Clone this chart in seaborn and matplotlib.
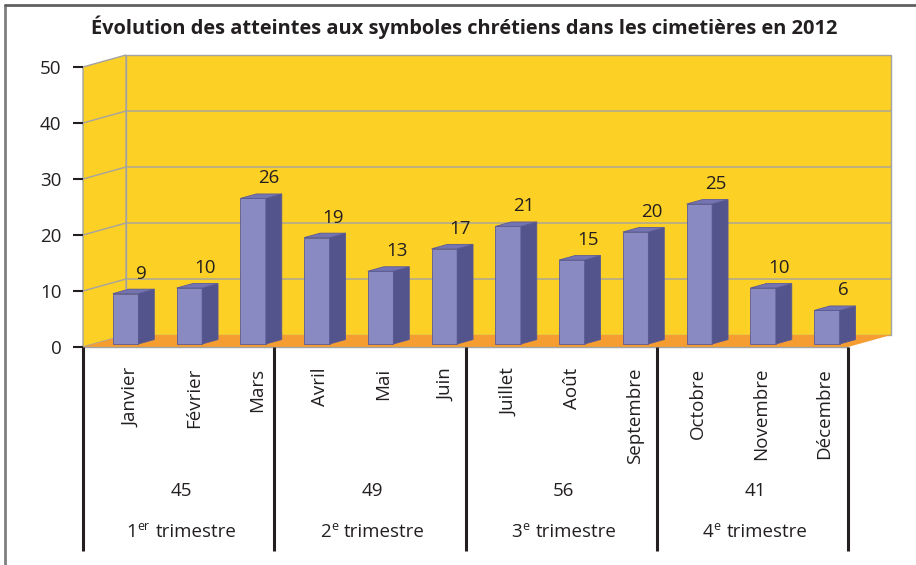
import matplotlib
matplotlib.use("Agg")
import matplotlib.pyplot as plt
from matplotlib.patches import Polygon
from matplotlib.transforms import Affine2D
from matplotlib.lines import Line2D
import seaborn as sns
import pandas as pd

# ---- data ----
months = ["Janvier", "Février", "Mars", "Avril", "Mai", "Juin",
          "Juillet", "Août", "Septembre", "Octobre", "Novembre", "Décembre"]
values = [9, 10, 26, 19, 13, 17, 21, 15, 20, 25, 10, 6]
quarter_totals = [45, 49, 56, 41]
quarter_numbers = ["1", "2", "3", "4"]
quarter_suffixes = ["er", "e", "e", "e"]
quarter_word = "trimestre"
y_ticks = [0, 10, 20, 30, 40, 50]
title = "Évolution des atteintes aux symboles chrétiens dans les cimetières en 2012"

# ---- style ----
sns.set_theme(style="white")
plt.rcParams["font.family"] = ["Open Sans", "DejaVu Sans"]

INK = "#231F20"
WALL = "#FDD026"
FLOOR = "#F59D30"
GRID = "#A3A3A3"
FRONT = "#8A8AC3"
SIDE = "#54548C"
TOP = "#7474B2"
EDGE = "#5A5A94"
FS = 13.5

W, H = 916, 565
fig = plt.figure(figsize=(W / 100, H / 100), dpi=100)

# front plane of the box, in pixels
px_left, px_right, px_zero, px_top = 83, 848, 347, 67
ax = fig.add_axes([px_left / W, 1 - px_zero / H,
                   (px_right - px_left) / W, (px_zero - px_top) / H])
ax.set_facecolor("none")

XU = (px_right - px_left) / 12.0      # pixels per category
YU = (px_zero - px_top) / 50.0        # pixels per unit
DX = 43 / XU                          # depth offset of the box (data units)
DY = 12 / YU
F0 = 0.25                             # depth at which the bars start
BD = 0.37                             # bar depth, fraction of the box depth

df = pd.DataFrame({"mois": months, "atteintes": values})
sns.barplot(data=df, x="mois", y="atteintes", color=FRONT, saturation=1,
            width=0.4, ax=ax, edgecolor=EDGE, linewidth=0.6, zorder=3)
bars = list(ax.patches)

x0, x1 = -0.5, 11.5
ax.set_xlim(x0, x1)
ax.set_ylim(0, 50)

# back wall, left wall, floor
ax.add_patch(Polygon([(x0 + DX, DY), (x1 + DX, DY), (x1 + DX, 50 + DY), (x0 + DX, 50 + DY)],
                     closed=True, facecolor=WALL, edgecolor=GRID, lw=1, zorder=0, clip_on=False))
ax.add_patch(Polygon([(x0, 0), (x0 + DX, DY), (x0 + DX, 50 + DY), (x0, 50)],
                     closed=True, facecolor=WALL, edgecolor=GRID, lw=1, zorder=0, clip_on=False))
ax.add_patch(Polygon([(x0, 0), (x1, 0), (x1 + DX, DY), (x0 + DX, DY)],
                     closed=True, facecolor=FLOOR, edgecolor="none", zorder=1, clip_on=False))
ax.plot([x0, x1], [0, 0], color=GRID, lw=1, zorder=1.5, clip_on=False)
for v in y_ticks[1:-1]:
    ax.plot([x0, x0 + DX, x1 + DX], [v, v + DY, v + DY], color=GRID, lw=1,
            zorder=0.5, clip_on=False)

# bars: shift the front faces into depth, then add side and top faces
shift = Affine2D().translate(F0 * DX, F0 * DY)
bdx, bdy = BD * DX, BD * DY
for b, v in zip(bars, values):
    b.set_transform(shift + ax.transData)
    xl = b.get_x() + F0 * DX
    xr = xl + b.get_width()
    yb = F0 * DY
    yt = yb + b.get_height()
    ax.add_patch(Polygon([(xr, yb), (xr + bdx, yb + bdy), (xr + bdx, yt + bdy), (xr, yt)],
                         closed=True, facecolor=SIDE, edgecolor=EDGE, lw=0.6, zorder=3,
                         clip_on=False))
    ax.add_patch(Polygon([(xl, yt), (xr, yt), (xr + bdx, yt + bdy), (xl + bdx, yt + bdy)],
                         closed=True, facecolor=TOP, edgecolor=EDGE, lw=0.6, zorder=3,
                         clip_on=False))
    ax.annotate(str(v), xy=((xl + xr) / 2, yt), xytext=(16, 20), textcoords="offset pixels",
                ha="center", va="center", fontsize=FS, color=INK, zorder=4)

# axes decoration
for s in ax.spines.values():
    s.set_visible(False)
ax.set_xlabel("")
ax.set_ylabel("")
ax.set_xticks([])
ax.set_yticks(y_ticks)
ax.set_yticklabels([str(t) for t in y_ticks])
ax.tick_params(axis="y", length=7.4, width=1.5, color=INK, pad=8.0,
               labelsize=FS, labelcolor=INK, left=True)

# category area below the box
def ypx(p):
    return -(p - px_zero) / YU

for sep in [-0.5, 2.5, 5.5, 8.5, 11.5]:
    ax.plot([sep, sep], [0, ypx(551)], color=INK, lw=2.2, clip_on=False,
            solid_capstyle="butt")

for i, m in enumerate(months):
    ax.text(i + 0.25 - 0.011 * i, ypx(368), m, rotation=90, ha="center", va="top",
            fontsize=FS, color=INK)

renderer = fig.canvas.get_renderer()


def text_width(s, size):
    t = fig.text(0, 0, s, fontsize=size)
    w = t.get_window_extent(renderer).width
    t.remove()
    return w


SUP = FS * 0.66
GAP = 6.0
base_px = 537.0
for q, tot in enumerate(quarter_totals):
    cx = 3 * q + 1 + 0.04
    ax.text(cx, ypx(490.5), str(tot), ha="center", va="center", fontsize=FS, color=INK)
    # "1er trimestre" composed of number, raised suffix and the word
    parts = [(quarter_numbers[q], FS, 0, 0.5), (quarter_suffixes[q], SUP, 6.5, GAP),
             (quarter_word, FS, 0, 0)]
    widths = [text_width(s, sz) for s, sz, _, _ in parts]
    total = sum(widths) + sum(g for *_, g in parts)
    x_start = -total / 2
    for (s, sz, rise, gap), w in zip(parts, widths):
        ax.annotate(s, xy=(cx, ypx(base_px)), xytext=(x_start, rise),
                    textcoords="offset pixels", ha="left", va="baseline",
                    fontsize=sz, color=INK, annotation_clip=False)
        x_start += w + gap

fig.text(464 / W, 1 - 27 / H, title, ha="center", va="center",
         fontsize=14.4, fontweight="bold", color=INK)

# outer frame (top and left edges)
fig.add_artist(Line2D([5 / W, 5 / W], [0, 1 - 5 / H], transform=fig.transFigure,
                      color="#808080", lw=2))
fig.add_artist(Line2D([5 / W, 1], [1 - 5 / H, 1 - 5 / H], transform=fig.transFigure,
                      color="#606060", lw=2))

fig.savefig("out.png", dpi=100)
